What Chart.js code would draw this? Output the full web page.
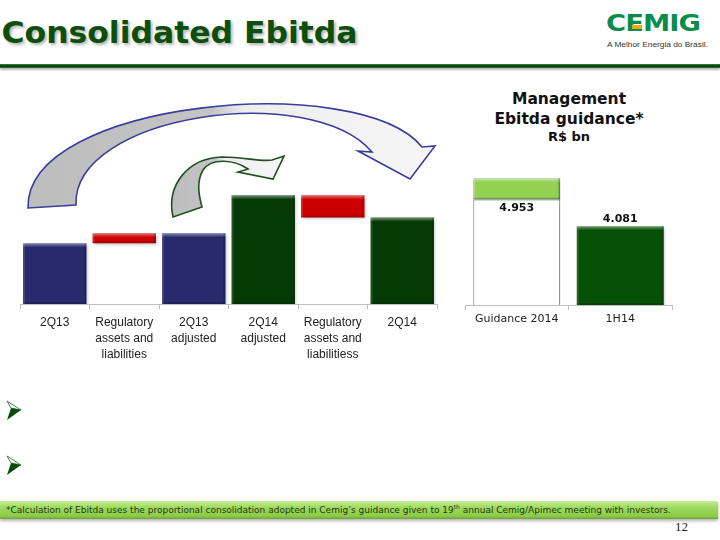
<!DOCTYPE html>
<html>
<head>
<meta charset="utf-8">
<script src="https://cdn.jsdelivr.net/npm/chart.js@4"></script>
<style>
  html, body { margin:0; padding:0; }
  body { width:720px; height:540px; position:relative; overflow:hidden; background:#fff; font-family:"DejaVu Sans", sans-serif; }
  .abs { position:absolute; }
  #title { left:4px; top:17px; font:bold 31px/31px "DejaVu Sans"; color:#0b4f0b; white-space:nowrap;
           text-shadow: 2px 2px 3px rgba(0,0,0,0.3); }
  #logo { left:606px; top:12px; width:110px; height:26px; }
  #logoText { left:0; top:0; font:bold 30px/30px "DejaVu Sans"; color:#0a8c4c; white-space:nowrap; transform-origin:0 0; letter-spacing:-1px; }
  #tagline { left:607px; top:40px; font:8px/10px "Liberation Sans"; color:#333; white-space:nowrap; transform-origin:0 0; }
  #rule { left:0; top:64px; width:720px; height:4px; background:linear-gradient(#4d8a4d, #0a4a0a 35%, #0a4a0a 70%, #3b7a3b); box-shadow:0 2px 2px rgba(0,0,0,0.28); }
  .rt { left:450px; width:238px; text-align:center; font-weight:bold; color:#111; white-space:nowrap; }
  #footer { left:0; top:501px; width:718px; height:18px; background:linear-gradient(#c6ef9c, #a0da60 35%, #8bcb47 85%, #6f9f3a); box-shadow:0 2px 3px rgba(0,0,0,0.3); }
  #footText { left:6px; top:3px; font:9px/12px "DejaVu Sans"; color:#1d3a12; white-space:nowrap; transform-origin:0 0; }
  #footText sup { font-size:6px; vertical-align:4px; line-height:0; }
  #pageNum { left:675px; top:519px; font:13px/16px "Liberation Serif"; color:#222; }
</style>
</head>
<body>
<div id="title" class="abs">Consolidated Ebitda</div>
<div id="logo" class="abs">
  <div id="logoText" class="abs">CEMIG</div>
  <div class="abs" style="left:26px;top:13px;width:10px;height:4px;background:#f5a800;"></div>
</div>
<div id="tagline" class="abs">A Melhor Energia do Brasil.</div>
<div id="rule" class="abs"></div>

<div class="abs rt" style="top:89px;height:20px;font-size:15.5px;line-height:20px;">Management</div>
<div class="abs rt" style="top:109px;height:20px;font-size:15.5px;line-height:20px;">Ebitda guidance*</div>
<div class="abs rt" style="top:128px;height:18px;font-size:13px;line-height:18px;">R$ bn</div>

<canvas id="left" class="abs" width="450" height="280" style="left:0;top:90px;"></canvas>
<canvas id="right" class="abs" width="270" height="220" style="left:450px;top:150px;"></canvas>

<svg class="abs" style="left:0;top:395px;" width="30" height="90">
  <polygon points="7,6 21,15 11,13" fill="#fff" stroke="#1f6a1f" stroke-width="0.8"/>
  <polygon points="7,25 21,15 11,13" fill="#0a4a0a"/>
  <polygon points="7,61 21,70 11,68" fill="#fff" stroke="#1f6a1f" stroke-width="0.8"/>
  <polygon points="7,80 21,70 11,68" fill="#0a4a0a"/>
</svg>

<div id="footer" class="abs"><div id="footText" class="abs">*Calculation of Ebitda uses the proportional consolidation adopted in Cemig’s guidance given to 19<sup>th</sup> annual Cemig/Apimec meeting with investors.</div></div>
<div id="pageNum" class="abs">12</div>

<script>
// ---------- DATA ----------
// Left waterfall (R$ million)
const waterfallCategories = [['2Q13'], ['Regulatory', 'assets and', 'liabilities'], ['2Q13', 'adjusted'], ['2Q14', 'adjusted'], ['Regulatory', 'assets and', 'liabilitiess'], ['2Q14']];
const waterfallTotals = [908, null, 1057, 1625, null, 1293];
const regulatoryAdjustments = [null, 149, null, null, -332, null];
const totalColors = ['#272a6c', null, '#272a6c', '#053a05', null, '#053a05'];

// Right chart (R$ bn)
const guidanceCategories = ['Guidance 2014', '1H14'];
const guidanceLow = 4.953;
const guidanceHigh = 5.653;
const firstHalf2014 = 4.081;

// ---------- helpers ----------
function fitText(id, w) {
  const el = document.getElementById(id);
  const cw = el.scrollWidth;
  el.style.transform = 'scaleX(' + (w / cw) + ')';
}
fitText('footText', 665);
fitText('logoText', 94);
document.getElementById('logoText').style.transform += ' scaleY(0.76)';
fitText('title', 356);
fitText('tagline', 101);

// build waterfall floating ranges from totals + adjustments
const adjRanges = regulatoryAdjustments.map((d, i) => {
  if (d === null) return null;
  const start = waterfallTotals[i - 1];
  return [start, start + d];
});

function isWhite(ds, i) {
  const bg = Array.isArray(ds.backgroundColor) ? ds.backgroundColor[i] : ds.backgroundColor;
  return bg === '#ffffff';
}

const shadowPlugin = {
  id: 'shadow',
  beforeDatasetsDraw(chart) {
    const c = chart.ctx; c.save();
    c.shadowColor = 'rgba(0,0,0,0.25)'; c.shadowBlur = 3; c.shadowOffsetX = 1.5; c.shadowOffsetY = 1.5;
  },
  afterDatasetsDraw(chart) {
    const c = chart.ctx; c.restore();
    // bevel highlight on every filled bar
    chart.data.datasets.forEach((ds, di) => {
      const meta = chart.getDatasetMeta(di);
      meta.data.forEach((bar, i) => {
        const raw = ds.data[i];
        if (raw === null || raw === undefined || isWhite(ds, i)) return;
        const p = bar.getProps(['x', 'y', 'base', 'width'], true);
        const top = Math.min(p.y, p.base), bot = Math.max(p.y, Math.min(p.base, chart.chartArea.bottom));
        const l = p.x - p.width / 2;
        const g = c.createLinearGradient(0, top, 0, top + 4);
        g.addColorStop(0, 'rgba(255,255,255,0.45)'); g.addColorStop(1, 'rgba(255,255,255,0)');
        c.fillStyle = g; c.fillRect(l, top, p.width, 4);
        c.fillStyle = 'rgba(0,0,0,0.18)';
        c.fillRect(l + p.width - 2, top, 2, bot - top);
        c.fillRect(l, bot - 2, p.width, 2);
        c.fillStyle = 'rgba(255,255,255,0.12)';
        c.fillRect(l, top, 2, bot - top);
      });
    });
  }
};

function arrowGradient(ctx, x0, x1, stop) {
  const g = ctx.createLinearGradient(x0, 0, x1, 0);
  g.addColorStop(0, '#bdbdbd'); g.addColorStop(stop, '#c4c4c4');
  g.addColorStop(stop + 0.08, '#eeeeee'); g.addColorStop(1, '#f6f6f6');
  return g;
}

const arrowsPlugin = {
  id: 'arrows',
  afterDraw(chart) {
    const c = chart.ctx;
    c.save();
    c.translate(0, -90); // page coordinates
    // big arrow: 2Q13 -> 2Q14
    c.beginPath();
    c.moveTo(28, 208);
    c.bezierCurveTo(25, 100, 360, 70, 422, 147);
    c.lineTo(435, 146); c.lineTo(410, 179); c.lineTo(358, 151); c.lineTo(372, 152);
    c.bezierCurveTo(310, 80, 72, 115, 76, 205);
    c.closePath();
    c.fillStyle = arrowGradient(c, 28, 435, 0.45);
    c.fill();
    c.lineWidth = 1.6; c.strokeStyle = '#3c3c9c'; c.lineJoin = 'miter'; c.stroke();
    // small arrow: 2Q13 adjusted -> 2Q14 adjusted
    c.beginPath();
    c.moveTo(173, 217);
    c.bezierCurveTo(166, 185, 188, 158, 222, 157);
    c.bezierCurveTo(245, 157, 260, 162, 272, 160);
    c.lineTo(284, 156); c.lineTo(273, 179); c.lineTo(238, 172); c.lineTo(248, 169);
    c.bezierCurveTo(235, 160, 212, 157, 203, 170);
    c.bezierCurveTo(196, 182, 199, 196, 202, 207);
    c.closePath();
    c.fillStyle = arrowGradient(c, 173, 284, 0.38);
    c.fill();
    c.lineWidth = 1.6; c.strokeStyle = '#1f4f1f'; c.stroke();
    c.restore();
  }
};

Chart.defaults.animation = false;

new Chart(document.getElementById('left'), {
  type: 'bar',
  data: {
    labels: waterfallCategories,
    datasets: [
      { data: waterfallTotals, backgroundColor: totalColors, borderWidth: 0, grouped: false,
        barPercentage: 0.912, categoryPercentage: 1 },
      { data: adjRanges, backgroundColor: '#cc0000', borderWidth: 0, grouped: false,
        barPercentage: 0.912, categoryPercentage: 1 }
    ]
  },
  options: {
    responsive: false, devicePixelRatio: 1,
    layout: { padding: { left: 20, right: 13, top: 0, bottom: 0 } },
    plugins: { legend: { display: false }, tooltip: { enabled: false } },
    scales: {
      x: {
        grid: { drawOnChartArea: false, drawTicks: true, tickLength: 5, color: '#bfbfbf', offset: true },
        border: { color: '#bfbfbf', width: 1 },
        ticks: { autoSkip: false, maxRotation: 0, padding: 6, color: '#222',
                 font: { family: 'Liberation Sans', size: 12, lineHeight: 1.3333 } },
        afterFit(s) { s.height = 66; }
      },
      y: { display: false, min: 0, max: 3200 }
    }
  },
  plugins: [shadowPlugin, arrowsPlugin]
});

const valueLabelPlugin = {
  id: 'valueLabels',
  afterDatasetsDraw(chart) {
    const c = chart.ctx;
    const meta = chart.getDatasetMeta(0);
    c.save();
    c.font = 'bold 11px "DejaVu Sans"'; c.fillStyle = '#111'; c.textAlign = 'center'; c.textBaseline = 'middle';
    meta.data.forEach((bar, i) => {
      const v = chart.data.datasets[0].data[i];
      const p = bar.getProps(['x', 'y'], true);
      const y = i === 0 ? p.y + 9 : p.y - 7;
      c.fillText(v.toFixed(3), p.x, y);
    });
    c.restore();
  }
};

new Chart(document.getElementById('right'), {
  type: 'bar',
  data: {
    labels: guidanceCategories,
    datasets: [
      { data: [guidanceLow, firstHalf2014], backgroundColor: ['#ffffff', '#075107'],
        borderColor: ['#5f8a58', 'rgba(0,0,0,0)'], borderWidth: [1, 0], borderSkipped: false,
        grouped: false, barPercentage: 0.84, categoryPercentage: 1 },
      { data: [[guidanceLow, guidanceHigh], null], backgroundColor: '#93d152',
        borderColor: '#6f9e45', borderWidth: 1, borderSkipped: false,
        grouped: false, barPercentage: 0.84, categoryPercentage: 1 }
    ]
  },
  options: {
    responsive: false, devicePixelRatio: 1,
    layout: { padding: { left: 15, right: 48, top: 10, bottom: 0 } },
    plugins: { legend: { display: false }, tooltip: { enabled: false } },
    scales: {
      x: {
        grid: { drawOnChartArea: false, drawTicks: true, tickLength: 5, color: '#bfbfbf', offset: true },
        border: { color: '#bfbfbf', width: 1 },
        ticks: { autoSkip: false, maxRotation: 0, padding: 3, color: '#222',
                 font: { family: 'DejaVu Sans', size: 11 } },
        afterFit(s) { s.height = 65; }
      },
      y: { display: false, min: 1.5, max: 6.25 }
    }
  },
  plugins: [shadowPlugin, valueLabelPlugin]
});
</script>
</body>
</html>
